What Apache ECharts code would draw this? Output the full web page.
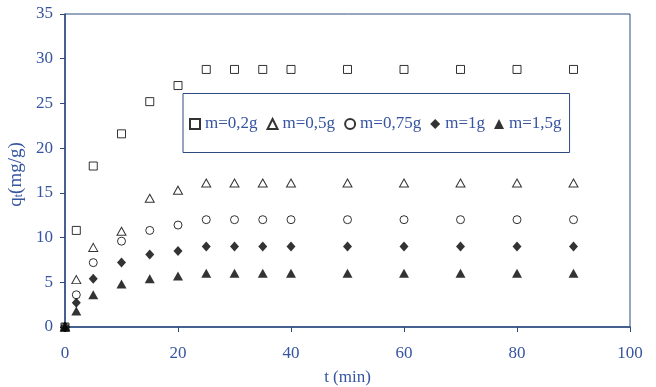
<!DOCTYPE html>
<html>
<head>
<meta charset="utf-8">
<script src="https://cdn.jsdelivr.net/npm/echarts@6/dist/echarts.min.js"></script>
<style>html,body{margin:0;padding:0;background:#fff;}#c{width:656px;height:387px;}</style>
</head>
<body>
<div id="c"></div>
<script>
var times = [0, 2, 5, 10, 15, 20, 25, 30, 35, 40, 50, 60, 70, 80, 90];
var m02 = [0, 10.8, 18.0, 21.6, 25.2, 27.0, 28.8, 28.8, 28.8, 28.8, 28.8, 28.8, 28.8, 28.8, 28.8];
var m05 = [0, 5.3, 8.9, 10.7, 14.4, 15.3, 16.1, 16.1, 16.1, 16.1, 16.1, 16.1, 16.1, 16.1, 16.1];
var m075 = [0, 3.6, 7.2, 9.6, 10.8, 11.4, 12.0, 12.0, 12.0, 12.0, 12.0, 12.0, 12.0, 12.0, 12.0];
var m1 = [0, 2.7, 5.4, 7.2, 8.1, 8.5, 9.0, 9.0, 9.0, 9.0, 9.0, 9.0, 9.0, 9.0, 9.0];
var m15 = [0, 1.8, 3.6, 4.8, 5.4, 5.7, 6.0, 6.0, 6.0, 6.0, 6.0, 6.0, 6.0, 6.0, 6.0];
var names = ['m=0,2g', 'm=0,5g', 'm=0,75g', 'm=1g', 'm=1,5g'];

function pairs(vals) { return times.map(function (t, i) { return [t, vals[i]]; }); }

var FONT = "'Liberation Serif', 'Times New Roman', serif";
var BLUE = '#3654a0';
var AXIS = '#2d4a80';

var hollow = { color: '#fff', borderColor: '#000', borderWidth: 1 };
var filled = { color: '#000' };

var chart = echarts.init(document.getElementById('c'));
chart.setOption({
  animation: false,
  backgroundColor: '#fff',
  grid: { left: 65, right: 26, top: 14, bottom: 60, containLabel: false, outerBoundsMode: 'none', show: true, borderColor: AXIS, borderWidth: 1, backgroundColor: 'transparent' },
  legend: {
    left: 183, top: 93.5,
    orient: 'horizontal',
    padding: [22, 8, 20, 6],
    borderColor: AXIS, borderWidth: 1,
    backgroundColor: '#fff',
    itemWidth: 10, itemHeight: 10, itemGap: 9,
    textStyle: { fontFamily: FONT, fontSize: 17, color: BLUE },
    data: names
  },
  xAxis: {
    type: 'value', min: 0, max: 100, interval: 20,
    name: 't (min)', nameLocation: 'middle', nameGap: 42,
    nameTextStyle: { fontFamily: FONT, fontSize: 17, color: BLUE },
    axisLine: { show: true, lineStyle: { color: AXIS, width: 1.5 } },
    axisTick: { show: true, length: 5, lineStyle: { color: AXIS } },
    axisLabel: { fontFamily: FONT, fontSize: 17, color: BLUE, margin: 18 },
    splitLine: { show: false }
  },
  yAxis: {
    type: 'value', min: 0, max: 35, interval: 5,
    name: '{a|q}{s|t}{a|(mg/g)}', nameLocation: 'middle', nameGap: 30, nameRotate: 90,
    nameTextStyle: {
      fontFamily: FONT, fontSize: 19, color: BLUE, padding: [0, 0, 0, -8],
      rich: {
        a: { fontFamily: FONT, fontSize: 19, color: BLUE },
        s: { fontFamily: FONT, fontSize: 12, color: BLUE, verticalAlign: 'bottom', padding: [7, 0, 0, 0] }
      }
    },
    axisLine: { show: true, lineStyle: { color: AXIS, width: 1.5 } },
    axisTick: { show: true, length: 5, lineStyle: { color: AXIS } },
    axisLabel: { fontFamily: FONT, fontSize: 17, color: BLUE, margin: 12 },
    splitLine: { show: false }
  },
  series: [
    { name: names[0], type: 'scatter', symbol: 'rect', symbolSize: 8, itemStyle: hollow, data: pairs(m02) },
    { name: names[1], type: 'scatter', symbol: 'triangle', symbolSize: [9, 8], itemStyle: hollow, data: pairs(m05) },
    { name: names[2], type: 'scatter', symbol: 'circle', symbolSize: 8, itemStyle: hollow, data: pairs(m075) },
    { name: names[3], type: 'scatter', symbol: 'diamond', symbolSize: [9, 10], itemStyle: filled, data: pairs(m1) },
    { name: names[4], type: 'scatter', symbol: 'triangle', symbolSize: [10, 9], itemStyle: filled, data: pairs(m15) }
  ]
});
</script>
</body>
</html>
